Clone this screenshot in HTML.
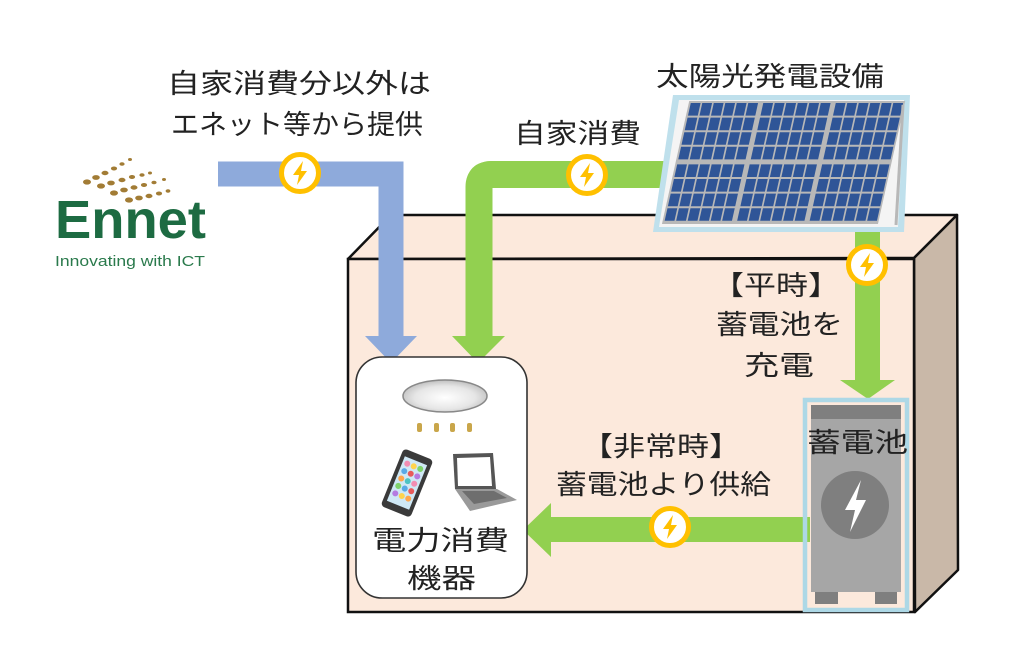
<!DOCTYPE html>
<html><head><meta charset="utf-8">
<style>
html,body{margin:0;padding:0;background:#fff;}
svg{display:block;}
text{font-family:"Liberation Sans","Noto Sans CJK JP",sans-serif;fill:#222;}
</style></head>
<body>
<svg width="1024" height="662" viewBox="0 0 1024 662" xmlns="http://www.w3.org/2000/svg">
<defs>
  <radialGradient id="lamp" cx="0.5" cy="0.55" r="0.6">
    <stop offset="0" stop-color="#ffffff"/>
    <stop offset="0.6" stop-color="#e6e6e6"/>
    <stop offset="1" stop-color="#b5b5b5"/>
  </radialGradient>
  <g id="bolt">
    <circle r="18.5" fill="#fff" stroke="#ffc000" stroke-width="5"/>
    <polygon points="3,-12 -7,2 -1,2 -3,12 7,-2 1,-2" fill="#ffc000"/>
  </g>
  <g id="crow" fill="#2f5597">
    <rect x="1" y="0" width="9.8" height="12.6"/>
    <rect x="12.5" y="0" width="9.8" height="12.6"/>
    <rect x="24" y="0" width="9.8" height="12.6"/>
    <rect x="35.5" y="0" width="9.8" height="12.6"/>
    <rect x="47" y="0" width="9.8" height="12.6"/>
    <rect x="58.5" y="0" width="9.8" height="12.6"/>
  </g>
  <g id="mod">
    <use href="#crow" y="1"/>
    <use href="#crow" y="15.6"/>
    <use href="#crow" y="30.2"/>
    <use href="#crow" y="44.8"/>
  </g>
</defs>

<!-- Ennet logo dots -->
<g fill="#a27c35">
  <ellipse cx="87" cy="182" rx="4" ry="2.6"/><ellipse cx="96" cy="177.5" rx="3.8" ry="2.4"/><ellipse cx="105" cy="173" rx="3.5" ry="2.2"/><ellipse cx="114" cy="168.5" rx="3.1" ry="2"/><ellipse cx="122" cy="164" rx="2.6" ry="1.8"/><ellipse cx="130" cy="159.5" rx="2" ry="1.5"/>
  <ellipse cx="101" cy="186" rx="4" ry="2.6"/><ellipse cx="111" cy="183" rx="3.8" ry="2.4"/><ellipse cx="122" cy="180" rx="3.5" ry="2.2"/><ellipse cx="132" cy="177" rx="3.1" ry="2"/><ellipse cx="142" cy="175" rx="2.6" ry="1.8"/><ellipse cx="150" cy="173" rx="2" ry="1.5"/>
  <ellipse cx="114" cy="193" rx="4" ry="2.6"/><ellipse cx="124" cy="190" rx="3.8" ry="2.4"/><ellipse cx="134" cy="187.5" rx="3.5" ry="2.2"/><ellipse cx="144" cy="185" rx="3.1" ry="2"/><ellipse cx="154" cy="182.5" rx="2.6" ry="1.8"/><ellipse cx="164" cy="179.5" rx="2" ry="1.5"/>
  <ellipse cx="129" cy="200" rx="4" ry="2.6"/><ellipse cx="139" cy="198" rx="3.8" ry="2.4"/><ellipse cx="149" cy="196" rx="3.5" ry="2.2"/><ellipse cx="159" cy="193.5" rx="3.1" ry="2"/><ellipse cx="168" cy="191" rx="2.4" ry="1.7"/>
</g>
<text x="55" y="238" font-size="54" font-weight="bold" style="fill:#1d6b42" textLength="151" lengthAdjust="spacingAndGlyphs">Ennet</text>
<text x="55" y="266" font-size="15" style="fill:#2a7a4c" textLength="150" lengthAdjust="spacingAndGlyphs">Innovating with ICT</text>

<!-- House box -->
<polygon points="348,259 391,215 957,215 914,258" fill="#fce9dc" stroke="#111" stroke-width="2.5" stroke-linejoin="round"/>
<polygon points="914,258 957,215 958,570 915,612" fill="#c9b8a8" stroke="#111" stroke-width="2.5" stroke-linejoin="round"/>
<rect x="348" y="259" width="566" height="353" fill="#fce9dc" stroke="#111" stroke-width="2.5"/>

<!-- Blue pipe -->
<polyline points="218,174 391,174 391,338" fill="none" stroke="#8eaadb" stroke-width="25"/>
<polygon points="365,336 417,336 391,363" fill="#8eaadb"/>

<!-- Green pipe top -->
<path d="M680,174.5 L492,174.5 Q479,174.5 479,187 L479,338" fill="none" stroke="#92d050" stroke-width="27"/>
<path d="M466,188 Q466,161 493,161 L493,188 Z" fill="#92d050"/>
<polygon points="452,336 505,336 478,363" fill="#92d050"/>

<!-- Green right vertical -->
<rect x="855" y="225" width="25" height="157" fill="#92d050"/>
<polygon points="840,380 895,380 868,399" fill="#92d050"/>

<!-- Green bottom horizontal -->
<rect x="548" y="517" width="262" height="25" fill="#92d050"/>
<polygon points="551,503 551,557 523,530" fill="#92d050"/>

<!-- Solar panel -->
<polygon points="673,95 910,95 904,232 653,232" fill="#bfe0ec"/>
<polygon points="679,100 904,100 898,227 659,227" fill="#f4f4f4"/>
<g transform="translate(690,102) skewX(-12.5)">
  <rect x="-1" y="-1" width="216" height="123" fill="#b8b8b8"/>
  <use href="#mod" x="0" y="0"/>
  <use href="#mod" x="72.5" y="0"/>
  <use href="#mod" x="145" y="0"/>
  <use href="#mod" x="0" y="61.4"/>
  <use href="#mod" x="72.5" y="61.4"/>
  <use href="#mod" x="145" y="61.4"/>
</g>
<line x1="903" y1="105" x2="896" y2="225" stroke="#b8b8b8" stroke-width="3"/>

<!-- Bolt circles -->
<use href="#bolt" x="300" y="173"/>
<use href="#bolt" x="587" y="175"/>
<use href="#bolt" x="867" y="265"/>
<use href="#bolt" x="670" y="527"/>

<!-- Device box -->
<rect x="356" y="357" width="171" height="241" rx="26" ry="26" fill="#fff" stroke="#333" stroke-width="1.6"/>
<ellipse cx="445" cy="396" rx="42" ry="16" fill="url(#lamp)" stroke="#888" stroke-width="1.5"/>
<g fill="#c9a64a">
  <rect x="417" y="423" width="5" height="9" rx="2"/>
  <rect x="434" y="423" width="5" height="9" rx="2"/>
  <rect x="450" y="423" width="5" height="9" rx="2"/>
  <rect x="467" y="423" width="5" height="9" rx="2"/>
</g>
<!-- phone -->
<g transform="translate(407,483) rotate(22)">
  <rect x="-16" y="-31" width="32" height="62" rx="4" fill="#3a3a3a"/>
  <rect x="-12" y="-24" width="24" height="48" fill="#cfe8f5"/>
  <g>
    <circle cx="-7" cy="-18" r="3" fill="#f28db2"/><circle cx="0" cy="-18" r="3" fill="#ffd34d"/><circle cx="7" cy="-18" r="3" fill="#7fd36b"/>
    <circle cx="-7" cy="-10" r="3" fill="#5aa9e6"/><circle cx="0" cy="-10" r="3" fill="#e85a5a"/><circle cx="7" cy="-10" r="3" fill="#b57be0"/>
    <circle cx="-7" cy="-2" r="3" fill="#ffa64d"/><circle cx="0" cy="-2" r="3" fill="#4dc3c3"/><circle cx="7" cy="-2" r="3" fill="#f28db2"/>
    <circle cx="-7" cy="6" r="3" fill="#7fd36b"/><circle cx="0" cy="6" r="3" fill="#5aa9e6"/><circle cx="7" cy="6" r="3" fill="#e85a5a"/>
    <circle cx="-7" cy="14" r="3" fill="#b57be0"/><circle cx="0" cy="14" r="3" fill="#ffd34d"/><circle cx="7" cy="14" r="3" fill="#ffa64d"/>
  </g>
</g>
<!-- laptop -->
<polygon points="453,454 493,453 496,489 455,489" fill="#555"/>
<polygon points="457,458 490,457 492,486 458,486" fill="#fff"/>
<polygon points="455,489 497,489 517,500 470,511" fill="#9a9a9a"/>
<polygon points="462,491 494,491 507,498 474,504" fill="#6e6e6e"/>

<!-- Battery -->
<rect x="805" y="400" width="102" height="210" fill="none" stroke="#add8e6" stroke-width="4.5"/>
<rect x="811" y="405" width="90" height="14" fill="#7f7f7f"/>
<rect x="811" y="419" width="90" height="173" fill="#a6a6a6"/>
<rect x="815" y="592" width="23" height="12" fill="#7f7f7f"/>
<rect x="875" y="592" width="22" height="12" fill="#7f7f7f"/>
<circle cx="855" cy="505" r="34" fill="#7f7f7f"/>
<polygon points="861,480 845,510 855,510 850,532 866,500 856,500" fill="#fff"/>

<!-- Texts -->
<text x="167" y="93" font-size="27" textLength="264" lengthAdjust="spacingAndGlyphs">自家消費分以外は</text>
<text x="171" y="134" font-size="27" textLength="252" lengthAdjust="spacingAndGlyphs">エネット等から提供</text>
<text x="656" y="86" font-size="27" textLength="228" lengthAdjust="spacingAndGlyphs">太陽光発電設備</text>
<text x="514" y="143" font-size="27" textLength="127" lengthAdjust="spacingAndGlyphs">自家消費</text>
<text x="712" y="295" font-size="27" textLength="128" lengthAdjust="spacingAndGlyphs">【平時】</text>
<text x="716" y="334" font-size="27" textLength="127" lengthAdjust="spacingAndGlyphs">蓄電池を</text>
<text x="744" y="375" font-size="27" textLength="70" lengthAdjust="spacingAndGlyphs">充電</text>
<text x="581" y="456" font-size="27" textLength="160" lengthAdjust="spacingAndGlyphs">【非常時】</text>
<text x="556" y="494" font-size="27" textLength="215" lengthAdjust="spacingAndGlyphs">蓄電池より供給</text>
<text x="807" y="452" font-size="27" textLength="101" lengthAdjust="spacingAndGlyphs">蓄電池</text>
<text x="372" y="550" font-size="27" textLength="137" lengthAdjust="spacingAndGlyphs">電力消費</text>
<text x="407" y="588" font-size="27" textLength="69" lengthAdjust="spacingAndGlyphs">機器</text>
</svg>
</body></html>
